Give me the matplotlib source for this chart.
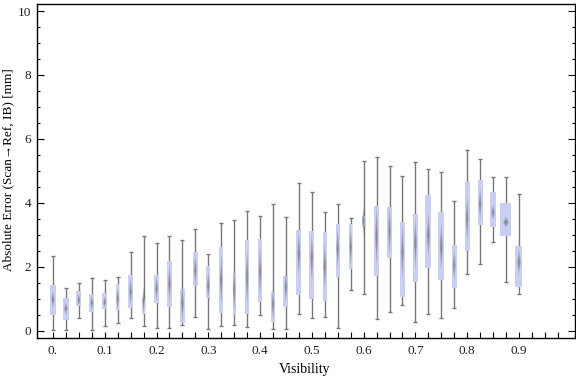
import numpy as np
import matplotlib
matplotlib.use("Agg")
import matplotlib.pyplot as plt
from matplotlib.patches import Polygon

# visibility bins (0.025 steps)
vis = [i * 0.025 for i in range(37)]

whisk_lo = [0.03, 0.03, 0.38, 0.03, 0.15, 0.23, 0.39, 0.13, 0.08, 0.08, 0.16, 0.41, 0.04,
            0.13, 0.16, 0.12, 0.48, 0.06, 0.04, 0.51, 0.38, 0.42, 0.07, 1.27, 1.15, 0.37,
            0.59, 0.79, 0.26, 0.51, 0.38, 0.69, 1.76, 2.07, 2.76, 1.51, 1.13]
q1 = [0.48, 0.34, 0.78, 0.59, 0.68, 0.65, 0.71, 0.52, 0.87, 0.74, 0.24, 1.39, 1.03,
      0.56, 0.48, 0.52, 0.90, 0.28, 0.74, 1.11, 1.00, 0.93, 1.68, 1.91, 3.28, 1.72,
      2.28, 1.04, 1.53, 1.96, 1.58, 1.34, 2.50, 3.31, 3.25, 2.97, 1.37]
median = [0.97, 0.69, 0.96, 0.87, 0.89, 0.99, 1.22, 0.96, 1.32, 1.47, 0.88, 1.89, 1.42,
          1.58, 1.30, 1.68, 1.85, 0.82, 1.37, 2.41, 2.26, 2.00, 2.57, 2.62, 3.43, 2.94,
          3.14, 2.46, 2.73, 2.99, 2.62, 2.05, 3.51, 3.96, 3.70, 3.39, 2.14]
q3 = [1.42, 1.02, 1.23, 1.14, 1.17, 1.46, 1.73, 0.98, 1.73, 2.17, 1.30, 2.46, 2.03,
      2.61, 1.81, 2.83, 2.85, 1.20, 1.70, 3.16, 3.13, 3.08, 3.33, 3.32, 3.59, 3.89,
      3.86, 3.40, 3.64, 4.24, 3.72, 2.67, 4.65, 4.70, 4.33, 3.98, 2.63]
whisk_hi = [2.32, 1.32, 1.48, 1.63, 1.57, 1.66, 2.47, 2.95, 2.73, 2.95, 2.83, 3.19, 2.41,
            3.35, 3.45, 3.73, 3.57, 3.95, 3.54, 4.63, 4.32, 3.70, 3.96, 3.53, 5.30, 5.43,
            5.15, 4.83, 5.26, 5.04, 4.95, 4.04, 5.64, 5.36, 4.79, 4.79, 4.27]
# median confidence span (diamond height)
notch = [0.6, 0.4, 0.4, 0.5, 0.4, 0.7, 0.9, 0.9, 0.8, 1.2, 1.3, 1.0, 0.9,
         1.6, 1.5, 1.8, 1.6, 1.0, 1.0, 1.5, 1.6, 1.6, 1.3, 1.2, 1.0, 2.0,
         1.6, 1.8, 1.7, 1.5, 1.5, 1.0, 1.5, 1.0, 0.5, 0.35, 0.8]
# relative box widths (sample size)
rel_w = [6.0, 6.3, 5.0, 5.3, 5.0, 3.0, 5.3, 3.0, 4.3, 5.3, 4.3, 4.7, 4.3,
         4.3, 3.0, 4.0, 4.5, 4.0, 5.0, 5.0, 5.3, 4.0, 4.0, 2.5, 4.0, 4.7,
         4.3, 4.3, 5.3, 6.0, 6.3, 5.3, 5.0, 5.0, 6.7, 11.0, 7.0]

serif = ['Liberation Serif', 'DejaVu Serif']
box_col = '#c9cef5'
grey = '#777777'

fig = plt.figure(figsize=(5.76, 3.77), dpi=100)
ax = fig.add_axes([0.0642, 0.1034, 0.9338, 0.886])

px = 1 / 517.8  # one pixel in data units along x
for x, lo, a, m, b, hi, n, w in zip(vis, whisk_lo, q1, median, q3, whisk_hi, notch, rel_w):
    ax.vlines(x, lo, hi, color=grey, lw=1.0, zorder=1)
    ax.hlines([lo, hi], x - 2 * px, x + 2 * px, color=grey, lw=1.0, zorder=1)
    bw = w * px
    ax.bar(x, b - a, bottom=a, width=bw, color=box_col, edgecolor='none', zorder=2)
    dw = max(bw * 0.55, 3 * px)
    for s in [1.0, 0.75, 0.5, 0.3]:
        hw, hh = dw / 2 * s, n / 2 * s
        ax.add_patch(Polygon([(x, m - hh), (x + hw, m), (x, m + hh), (x - hw, m)],
                             closed=True, facecolor='#6e6e6e', edgecolor='none',
                             alpha=0.28, zorder=3))

ax.set_xlim(-0.0309, 1.008)
ax.set_ylim(-0.235, 10.22)

ax.set_xticks(np.arange(0, 1.0, 0.025), minor=True)
ax.set_xticks(np.arange(0, 0.95, 0.1))
ax.set_xticklabels(['0.'] + ['%.1f' % v for v in np.arange(0.1, 0.95, 0.1)])
ax.set_yticks(np.arange(0, 10.1, 2))
ax.set_yticks(np.arange(0, 10.1, 0.5), minor=True)
ax.tick_params(axis='both', which='both', direction='in', labelsize=9.5,
               labelcolor='#222222', width=0.8)
ax.tick_params(axis='x', which='both', length=4, top=False, pad=5)
ax.tick_params(axis='y', which='major', length=5, right=True, pad=4)
ax.tick_params(axis='y', which='minor', length=2.5, right=True)
for lab in ax.get_xticklabels() + ax.get_yticklabels():
    lab.set_family(serif)
for sp in ax.spines.values():
    sp.set_linewidth(1.0)

ax.set_xlabel('Visibility', family=serif, fontsize=10)
ax.xaxis.set_label_coords(0.498, -0.075)
ax.set_ylabel('Absolute Error (Scan\u2192Ref, IB) [mm]', family=serif, fontsize=9.5)
ax.yaxis.set_label_coords(-0.043, 0.503)

fig.savefig('out.png', dpi=100)
